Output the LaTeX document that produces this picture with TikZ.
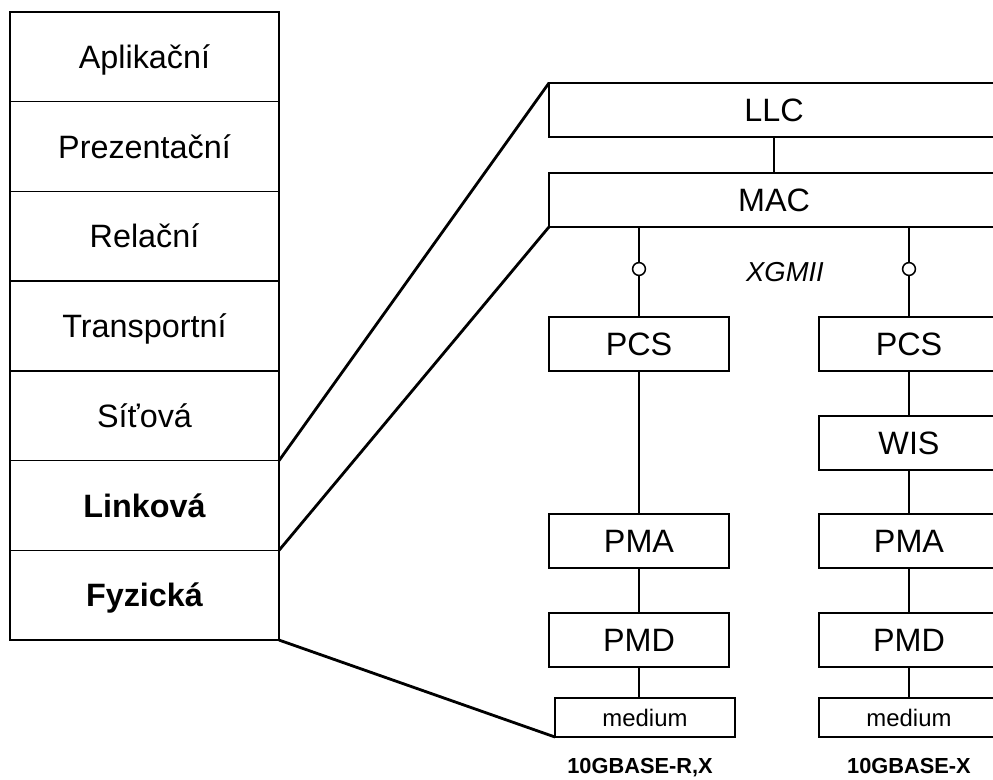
\documentclass[tikz,border=0pt]{standalone}
\usepackage{fontspec}
\setmainfont{Liberation Sans}
\usetikzlibrary{positioning}

\begin{document}
\begin{tikzpicture}[x=0.025cm, y=-0.025cm, node distance=0pt,
    layer/.style={draw, line width=1.1pt, outer sep=0pt, inner sep=0pt,
        minimum width=6.725cm, minimum height=2.2425cm,
        font=\fontsize{23}{27}\selectfont, text height=16.5pt, text depth=0pt},
    sub/.style={draw, line width=1.1pt, outer sep=0pt, inner sep=0pt,
        minimum width=4.5cm, minimum height=1.35cm,
        font=\fontsize{23}{27}\selectfont, text height=16.5pt, text depth=0pt},
    med/.style={draw, line width=1.1pt, outer sep=0pt, inner sep=0pt,
        minimum width=4.5cm, minimum height=0.975cm,
        font=\fontsize{17}{20}\selectfont, text height=12.2pt, text depth=0pt},
    port/.style={circle, draw, fill=white, line width=1.1pt, inner sep=0pt, minimum size=0.32cm},
    wire/.style={line width=2pt},
    std/.style={font=\bfseries\fontsize{15.5}{18}\selectfont, anchor=base}]
    \useasboundingbox (0,0) rectangle (993,779);

    % OSI model
    \node[layer] (apl) at (144.5,56.85) {Aplikační};
    \node[layer] (pre) [below=of apl] {Prezentační};
    \node[layer] (rel) [below=of pre] {Relační};
    \node[layer] (tra) [below=of rel] {Transportní};
    \node[layer] (sit) [below=of tra] {Síťová};
    \node[layer, font=\bfseries\fontsize{23}{27}\selectfont] (lin) [below=of sit] {Linková};
    \node[layer, font=\bfseries\fontsize{23}{27}\selectfont] (fyz) [below=of lin] {Fyzická};

    % 10 Gb Ethernet
    \node[sub, minimum width=11.25cm] (llc) at (774,110) {LLC};
    \node[sub, minimum width=11.25cm] (mac) at (774,200) {MAC};
    \node[port] (xgA) at (639,269) {};
    \node[port] (xgB) at (909,269) {};
    \node[font=\itshape\fontsize{19.5}{22}\selectfont, text height=14pt, text depth=0pt] (xgmii) at (785,272) {XGMII};

    \node[sub] (pcsA) at (639,344) {PCS};
    \node[sub] (pmaA) at (639,541) {PMA};
    \node[sub] (pmdA) at (639,640) {PMD};
    \node[med] (medA) at (645,717.5) {medium};

    \node[sub] (pcsB) at (909,344) {PCS};
    \node[sub] (wisB) at (909,443) {WIS};
    \node[sub] (pmaB) at (909,541) {PMA};
    \node[sub] (pmdB) at (909,640) {PMD};
    \node[med] (medB) at (909,717.5) {medium};

    \node[std] (nameA) at (640,773) {10GBASE-R,X};
    \node[std] (nameB) at (909,773) {10GBASE-X};

    \draw[wire] (llc) -- (mac);
    \draw[wire] (pcsA.north |- mac.south) -- (xgA) -- (pcsA);
    \draw[wire] (pcsB.north |- mac.south) -- (xgB) -- (pcsB);
    \draw[wire] (pcsA) -- (pmaA) -- (pmdA);
    \draw[wire] (pmdA) -- (pmdA.south |- medA.north);
    \draw[wire] (pcsB) -- (wisB) -- (pmaB) -- (pmdB) -- (medB);

    \draw[wire] (lin.north east) -- (llc.north west);
    \draw[wire] (fyz.north east) -- (mac.south west);
    \draw[wire] (fyz.south east) -- (medA.south west);
\end{tikzpicture}
\end{document}
